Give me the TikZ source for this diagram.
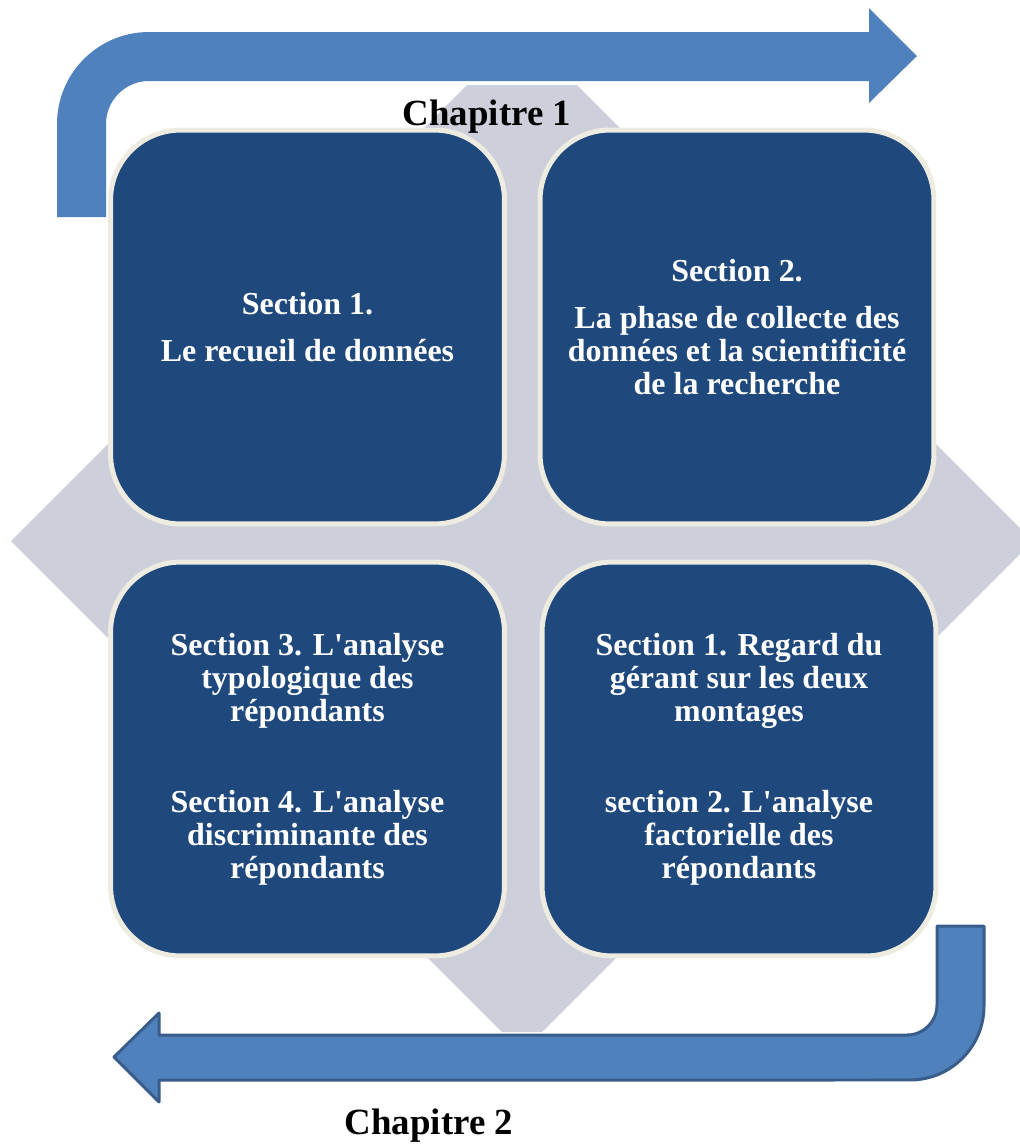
\documentclass[tikz,border=0pt]{standalone}
\usepackage{fontspec}
\setmainfont{Liberation Serif}
\definecolor{navy}{RGB}{31,73,125}
\definecolor{cream}{RGB}{238,236,225}
\definecolor{steel}{RGB}{79,129,189}
\definecolor{steeldark}{RGB}{56,93,138}
\definecolor{lightgray}{RGB}{205,208,218}

\begin{document}
\begin{tikzpicture}[x=0.02cm, y=-0.02cm,
  secbox/.style={draw=cream, line width=0.1cm, fill=navy, rounded corners=1.4cm,
    minimum width=7.88cm, minimum height=7.88cm, text=white, align=center,
    font=\bfseries\fontsize{18.2}{18.8}\selectfont},
  chaplabel/.style={font=\bfseries\fontsize{21}{21}\selectfont}]
\useasboundingbox (0,0) rectangle (1020,1144);
\clip (0,0) rectangle (1020,1144);
% background diamond
\fill[lightgray] (11,541) -- (467,85) -- (577,85) -- (1033,541) -- (542,1032) -- (502,1032) -- cycle;
% bent arrows
\fill[steel] (57,217) -- (57,124) arc[start angle=180, end angle=90, radius=1.84cm]
  -- (869,32) -- (869,8) -- (917,56) -- (869,103) -- (869,81) -- (149,81)
  arc[start angle=90, end angle=180, radius=0.86cm] -- (106,217) -- cycle;
\filldraw[fill=steel, draw=steeldark, line width=0.06cm, line join=round]
  (984,926) -- (984,1006) arc[start angle=0, end angle=-90, radius=1.48cm]
  -- (159,1080) -- (159,1102) -- (114,1057) -- (159,1013) -- (159,1035) -- (907,1035)
  arc[start angle=270, end angle=360, radius=0.6cm] -- (937,926) -- cycle;
% sections
\node[secbox] (s1) at (307.5,327) {Section 1.\\[8pt]Le recueil de données};
\node[secbox] (s2) at (737,327) {Section 2.\\[8pt]La phase de collecte des\\données et la scientificité\\de la recherche};
\node[secbox] (s3) at (307.5,759) {Section 3. L\textquotesingle analyse\\typologique des\\répondants\\[33pt]Section 4. L\textquotesingle analyse\\discriminante des\\répondants};
\node[secbox] (s4) at (739,759) {Section 1. Regard du\\gérant sur les deux\\montages\\[33pt]section 2. L\textquotesingle analyse\\factorielle des\\répondants};
% chapters
\node[chaplabel] (ch1) at (487,117) {Chapitre 1};
\node[chaplabel] (ch2) at (429,1126) {Chapitre 2};
\end{tikzpicture}
\end{document}
